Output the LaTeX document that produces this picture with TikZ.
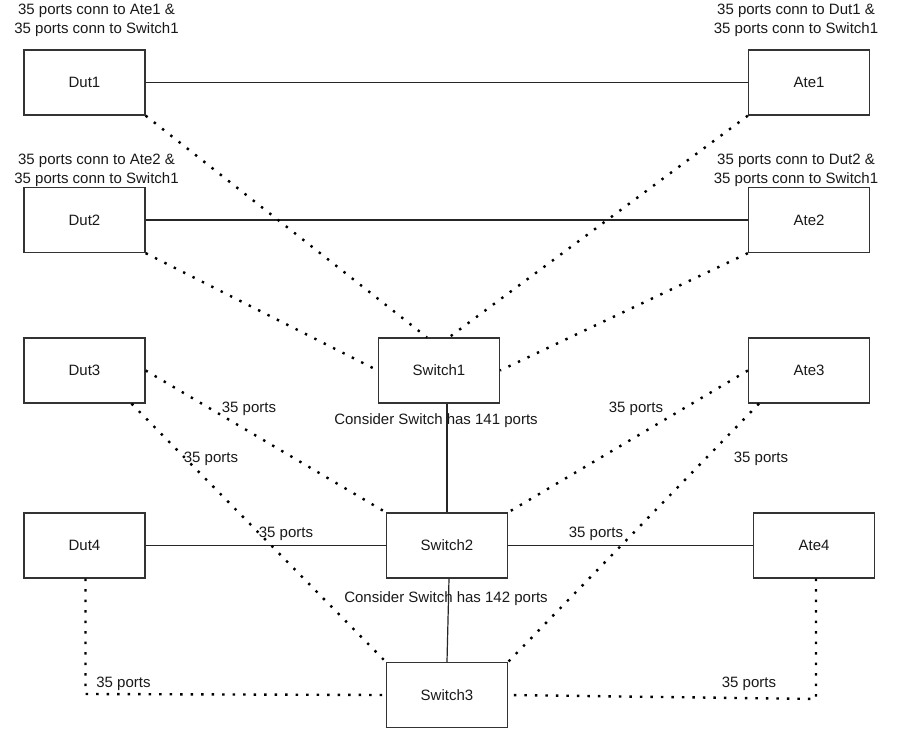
\documentclass[tikz,border=0pt]{standalone}
\usepackage{fontspec}
\setmainfont{Liberation Sans}
\begin{document}
\begin{tikzpicture}[x=1pt,y=-1pt,
  font=\fontsize{15}{18.5}\selectfont,
  box/.style={draw=black!80, line width=1.3pt, minimum width=121pt, minimum height=65pt, inner sep=0pt, text=black!90},
  solidlink/.style={draw=black!85, line width=1.2pt},
  dotlink/.style={draw=black, line width=2.4pt, dash pattern=on 2.4pt off 8.1pt},
  lbl/.style={inner sep=0pt, text=black!90},
  note/.style={inner sep=0pt, align=center, text=black!90}
]
\fill[white] (0,0) rectangle (898,734);
\useasboundingbox (0,0) rectangle (898,734);

% devices
\node[box] (Dut1) at (84.5,82.5) {Dut1};
\node[box] (Ate1) at (809,82.5) {Ate1};
\node[box] (Dut2) at (84.5,220) {Dut2};
\node[box] (Ate2) at (809,220) {Ate2};
\node[box] (Dut3) at (84.5,370.5) {Dut3};
\node[box] (Ate3) at (809,370.5) {Ate3};
\node[box] (Dut4) at (84.5,545.5) {Dut4};
\node[box] (Ate4) at (814,545.5) {Ate4};
\node[box] (Switch1) at (439,370.5) {Switch1};
\node[box] (Switch2) at (447,545.5) {Switch2};
\node[box] (Switch3) at (447,695) {Switch3};

% port notes above the top rows
\node[note] (n1) at (96.5,20.5) {35 ports conn to Ate1 \&\\35 ports conn to Switch1};
\node[note] (n2) at (796,20.5) {35 ports conn to Dut1 \&\\35 ports conn to Switch1};
\node[note] (n3) at (96.5,170.5) {35 ports conn to Ate2 \&\\35 ports conn to Switch1};
\node[note] (n4) at (796,170.5) {35 ports conn to Dut2 \&\\35 ports conn to Switch1};

% direct links
\draw[solidlink] (Dut1.east) -- (Ate1.west);
\draw[solidlink] (Dut2.east) -- (Ate2.west);
\draw[solidlink] ([xshift=8pt]Switch1.south) -- (Switch2.north);
\draw[solidlink] ([xshift=2pt]Switch2.south) -- (Switch3.north);
\draw[solidlink] (Dut4.east) -- (Switch2.west);
\draw[solidlink] (Switch2.east) -- (Ate4.west);

% links to Switch1
\draw[dotlink] (Dut1.south east) -- ([xshift=-12pt]Switch1.north);
\draw[dotlink] (Ate1.south west) -- ([xshift=10pt]Switch1.north);
\draw[dotlink] (Dut2.south east) -- (Switch1.west);
\draw[dotlink] (Ate2.south west) -- (Switch1.east);

% links to Switch2 and Switch3
\draw[dotlink] (Dut3.east) -- (Switch2.north west);
\draw[dotlink] (Ate3.west) -- (Switch2.north east);
\draw[dotlink] ([xshift=47pt]Dut3.south) -- (Switch3.north west);
\draw[dotlink] ([xshift=-50pt]Ate3.south) -- (Switch3.north east);
\coordinate (dcorner) at (85.5,694);
\coordinate (acorner) at (816,699);
\draw[dotlink] ([xshift=1pt]Dut4.south) -- (dcorner) -- (Switch3.west);
\draw[dotlink] ([xshift=2pt]Ate4.south) -- (acorner) -- (Switch3.east);

% link labels
\node[lbl] (l1) at (249,409) {35 ports};
\node[lbl] (l2) at (211,459) {35 ports};
\node[lbl] (l3) at (286,534) {35 ports};
\node[lbl] (l4) at (636,409) {35 ports};
\node[lbl] (l5) at (761,459) {35 ports};
\node[lbl] (l6) at (596,534) {35 ports};
\node[lbl] (l7) at (123.5,684) {35 ports};
\node[lbl] (l8) at (749,684) {35 ports};
\node[lbl] (c1) at (436,421) {Consider Switch has 141 ports};
\node[lbl] (c2) at (446,599) {Consider Switch has 142 ports};
\end{tikzpicture}
\end{document}
